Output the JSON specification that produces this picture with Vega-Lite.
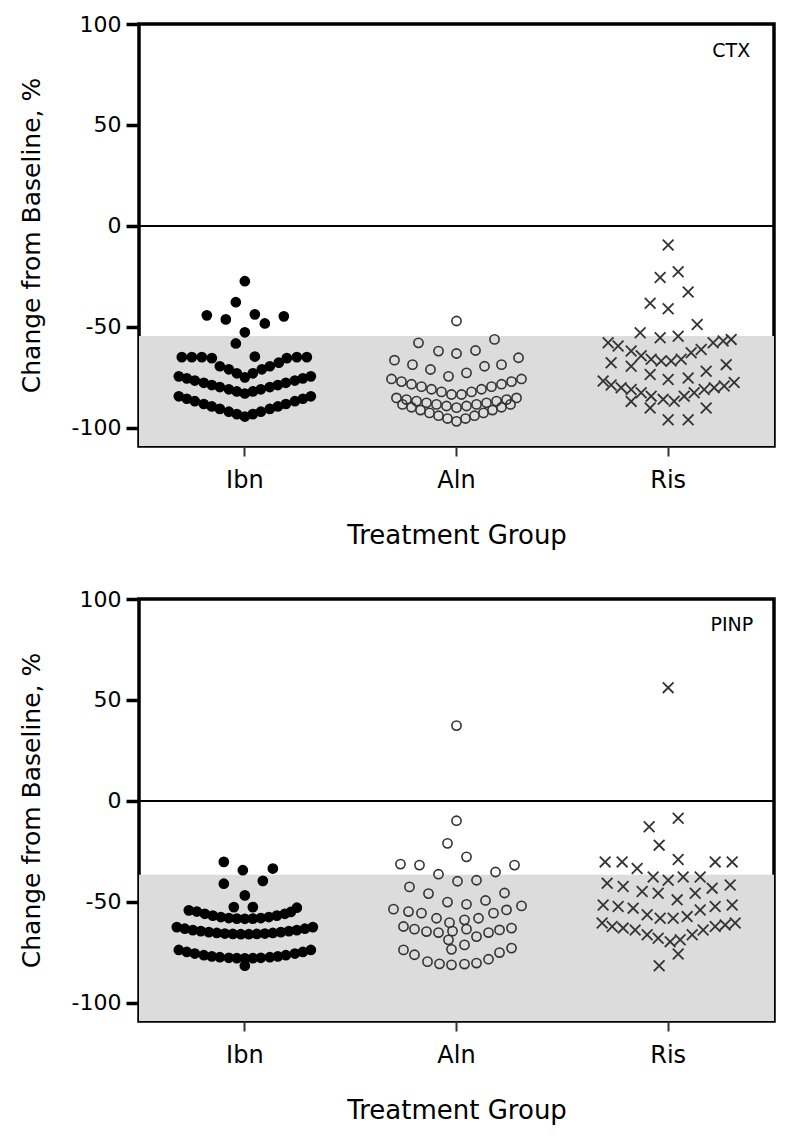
{
"$schema": "https://vega.github.io/schema/vega-lite/v6.json",
"background": "white",
"padding": {"left": 17, "top": 11, "right": 20, "bottom": 10},
"spacing": 36,
"datasets": {
"shades": [{"panel":"CTX","upper":-54.5,"lower":-109},{"panel":"PINP","upper":-36.6,"lower":-109}],
"labels": [{"panel":"CTX","group":"Ris","offset":82,"value":86.4,"label":"CTX"},{"panel":"PINP","group":"Ris","offset":85,"value":87,"label":"PINP"}],
"points": [
{"panel":"CTX","group":"Ibn","offset":0,"value":-27.4},{"panel":"CTX","group":"Ibn","offset":-9,"value":-37.8},{"panel":"CTX","group":"Ibn","offset":-38,"value":-44.3},{"panel":"CTX","group":"Ibn","offset":-19,"value":-46.3},{"panel":"CTX","group":"Ibn","offset":10,"value":-43.8},{"panel":"CTX","group":"Ibn","offset":20,"value":-48.3},{"panel":"CTX","group":"Ibn","offset":39,"value":-44.8},{"panel":"CTX","group":"Ibn","offset":0,"value":-52.7},{"panel":"CTX","group":"Ibn","offset":-9,"value":-58.2},{"panel":"CTX","group":"Ibn","offset":10,"value":-64.7},
{"panel":"CTX","group":"Ibn","offset":-63,"value":-65},{"panel":"CTX","group":"Ibn","offset":-53,"value":-65},{"panel":"CTX","group":"Ibn","offset":-43,"value":-65},{"panel":"CTX","group":"Ibn","offset":-33,"value":-65.5},{"panel":"CTX","group":"Ibn","offset":-25,"value":-69.5},{"panel":"CTX","group":"Ibn","offset":-16,"value":-71},{"panel":"CTX","group":"Ibn","offset":-8,"value":-73},{"panel":"CTX","group":"Ibn","offset":0,"value":-75},{"panel":"CTX","group":"Ibn","offset":8,"value":-73},{"panel":"CTX","group":"Ibn","offset":17,"value":-71},{"panel":"CTX","group":"Ibn","offset":25,"value":-69.5},{"panel":"CTX","group":"Ibn","offset":34,"value":-67.7},{"panel":"CTX","group":"Ibn","offset":42,"value":-65.5},{"panel":"CTX","group":"Ibn","offset":52,"value":-65},{"panel":"CTX","group":"Ibn","offset":62,"value":-65},
{"panel":"CTX","group":"Ibn","offset":-66,"value":-74.5},{"panel":"CTX","group":"Ibn","offset":-58,"value":-75.5},{"panel":"CTX","group":"Ibn","offset":-50,"value":-76.6},{"panel":"CTX","group":"Ibn","offset":-41,"value":-77.7},{"panel":"CTX","group":"Ibn","offset":-33,"value":-78.8},{"panel":"CTX","group":"Ibn","offset":-25,"value":-79.8},{"panel":"CTX","group":"Ibn","offset":-16,"value":-80.9},{"panel":"CTX","group":"Ibn","offset":-8,"value":-82},{"panel":"CTX","group":"Ibn","offset":0,"value":-83},{"panel":"CTX","group":"Ibn","offset":8,"value":-82},{"panel":"CTX","group":"Ibn","offset":16,"value":-80.9},{"panel":"CTX","group":"Ibn","offset":25,"value":-79.8},{"panel":"CTX","group":"Ibn","offset":33,"value":-78.8},{"panel":"CTX","group":"Ibn","offset":41,"value":-77.7},{"panel":"CTX","group":"Ibn","offset":50,"value":-76.6},{"panel":"CTX","group":"Ibn","offset":58,"value":-75.5},{"panel":"CTX","group":"Ibn","offset":66,"value":-74.5},
{"panel":"CTX","group":"Ibn","offset":-66,"value":-84.4},{"panel":"CTX","group":"Ibn","offset":-58,"value":-85.6},{"panel":"CTX","group":"Ibn","offset":-50,"value":-86.8},{"panel":"CTX","group":"Ibn","offset":-41,"value":-88.2},{"panel":"CTX","group":"Ibn","offset":-33,"value":-89.4},{"panel":"CTX","group":"Ibn","offset":-25,"value":-90.6},{"panel":"CTX","group":"Ibn","offset":-16,"value":-92},{"panel":"CTX","group":"Ibn","offset":-8,"value":-93.2},{"panel":"CTX","group":"Ibn","offset":0,"value":-94.4},{"panel":"CTX","group":"Ibn","offset":8,"value":-93.2},{"panel":"CTX","group":"Ibn","offset":16,"value":-92},{"panel":"CTX","group":"Ibn","offset":25,"value":-90.6},{"panel":"CTX","group":"Ibn","offset":33,"value":-89.4},{"panel":"CTX","group":"Ibn","offset":41,"value":-88.2},{"panel":"CTX","group":"Ibn","offset":50,"value":-86.8},{"panel":"CTX","group":"Ibn","offset":58,"value":-85.6},{"panel":"CTX","group":"Ibn","offset":66,"value":-84.4},
{"panel":"CTX","group":"Aln","offset":0,"value":-47.1},{"panel":"CTX","group":"Aln","offset":-38,"value":-57.9},{"panel":"CTX","group":"Aln","offset":38,"value":-56.2},{"panel":"CTX","group":"Aln","offset":-18,"value":-62},{"panel":"CTX","group":"Aln","offset":0,"value":-63.2},{"panel":"CTX","group":"Aln","offset":19,"value":-61.7},{"panel":"CTX","group":"Aln","offset":-62,"value":-66.5},{"panel":"CTX","group":"Aln","offset":-44,"value":-68.7},{"panel":"CTX","group":"Aln","offset":-26,"value":-71.1},{"panel":"CTX","group":"Aln","offset":-8,"value":-74.5},{"panel":"CTX","group":"Aln","offset":10,"value":-72.8},{"panel":"CTX","group":"Aln","offset":28,"value":-69.5},{"panel":"CTX","group":"Aln","offset":45,"value":-68.7},{"panel":"CTX","group":"Aln","offset":62,"value":-65.3},
{"panel":"CTX","group":"Aln","offset":-65,"value":-75.8},{"panel":"CTX","group":"Aln","offset":-55,"value":-77.1},{"panel":"CTX","group":"Aln","offset":-45,"value":-78.4},{"panel":"CTX","group":"Aln","offset":-35,"value":-79.6},{"panel":"CTX","group":"Aln","offset":-25,"value":-80.9},{"panel":"CTX","group":"Aln","offset":-15,"value":-82.2},{"panel":"CTX","group":"Aln","offset":-5,"value":-83.5},{"panel":"CTX","group":"Aln","offset":5,"value":-83.5},{"panel":"CTX","group":"Aln","offset":15,"value":-82.2},{"panel":"CTX","group":"Aln","offset":25,"value":-80.9},{"panel":"CTX","group":"Aln","offset":35,"value":-79.6},{"panel":"CTX","group":"Aln","offset":45,"value":-78.4},{"panel":"CTX","group":"Aln","offset":55,"value":-77.1},{"panel":"CTX","group":"Aln","offset":65,"value":-75.8},
{"panel":"CTX","group":"Aln","offset":-60,"value":-85.2},{"panel":"CTX","group":"Aln","offset":-50,"value":-86},{"panel":"CTX","group":"Aln","offset":-40,"value":-86.8},{"panel":"CTX","group":"Aln","offset":-30,"value":-87.6},{"panel":"CTX","group":"Aln","offset":-20,"value":-88.4},{"panel":"CTX","group":"Aln","offset":-10,"value":-89.2},{"panel":"CTX","group":"Aln","offset":0,"value":-90},{"panel":"CTX","group":"Aln","offset":10,"value":-89.2},{"panel":"CTX","group":"Aln","offset":20,"value":-88.4},{"panel":"CTX","group":"Aln","offset":30,"value":-87.6},{"panel":"CTX","group":"Aln","offset":40,"value":-86.8},{"panel":"CTX","group":"Aln","offset":50,"value":-86},{"panel":"CTX","group":"Aln","offset":60,"value":-85.2},
{"panel":"CTX","group":"Aln","offset":-54,"value":-88.4},{"panel":"CTX","group":"Aln","offset":-45,"value":-89.8},{"panel":"CTX","group":"Aln","offset":-36,"value":-91.2},{"panel":"CTX","group":"Aln","offset":-27,"value":-92.6},{"panel":"CTX","group":"Aln","offset":-18,"value":-94},{"panel":"CTX","group":"Aln","offset":-9,"value":-95.4},{"panel":"CTX","group":"Aln","offset":0,"value":-96.8},{"panel":"CTX","group":"Aln","offset":9,"value":-95.4},{"panel":"CTX","group":"Aln","offset":18,"value":-94},{"panel":"CTX","group":"Aln","offset":27,"value":-92.6},{"panel":"CTX","group":"Aln","offset":36,"value":-91.2},{"panel":"CTX","group":"Aln","offset":45,"value":-89.8},{"panel":"CTX","group":"Aln","offset":54,"value":-88.4},
{"panel":"CTX","group":"Ris","offset":0,"value":-9.5},{"panel":"CTX","group":"Ris","offset":-8,"value":-25.5},{"panel":"CTX","group":"Ris","offset":10,"value":-22.7},{"panel":"CTX","group":"Ris","offset":20,"value":-32.7},{"panel":"CTX","group":"Ris","offset":-18,"value":-38.3},{"panel":"CTX","group":"Ris","offset":0,"value":-41},{"panel":"CTX","group":"Ris","offset":29,"value":-48.8},{"panel":"CTX","group":"Ris","offset":-28,"value":-52.9},{"panel":"CTX","group":"Ris","offset":-8,"value":-55.4},{"panel":"CTX","group":"Ris","offset":10,"value":-54.6},
{"panel":"CTX","group":"Ris","offset":-60,"value":-57.9},{"panel":"CTX","group":"Ris","offset":-50,"value":-59.5},{"panel":"CTX","group":"Ris","offset":-37,"value":-62},
{"panel":"CTX","group":"Ris","offset":-27,"value":-64.3},{"panel":"CTX","group":"Ris","offset":-17,"value":-66},{"panel":"CTX","group":"Ris","offset":-7,"value":-66.9},{"panel":"CTX","group":"Ris","offset":3,"value":-66.9},{"panel":"CTX","group":"Ris","offset":13,"value":-66},
{"panel":"CTX","group":"Ris","offset":23,"value":-62.8},{"panel":"CTX","group":"Ris","offset":33,"value":-61.2},{"panel":"CTX","group":"Ris","offset":45,"value":-57.9},{"panel":"CTX","group":"Ris","offset":55,"value":-57},{"panel":"CTX","group":"Ris","offset":63,"value":-56.2},
{"panel":"CTX","group":"Ris","offset":-57,"value":-67.8},{"panel":"CTX","group":"Ris","offset":-37,"value":-69.5},{"panel":"CTX","group":"Ris","offset":-18,"value":-73.6},{"panel":"CTX","group":"Ris","offset":0,"value":-76.1},{"panel":"CTX","group":"Ris","offset":20,"value":-75.3},{"panel":"CTX","group":"Ris","offset":38,"value":-72},{"panel":"CTX","group":"Ris","offset":58,"value":-68.7},
{"panel":"CTX","group":"Ris","offset":-65,"value":-76.8},{"panel":"CTX","group":"Ris","offset":-57,"value":-78.8},{"panel":"CTX","group":"Ris","offset":-47,"value":-80.1},{"panel":"CTX","group":"Ris","offset":-37,"value":-81},{"panel":"CTX","group":"Ris","offset":-27,"value":-82.6},{"panel":"CTX","group":"Ris","offset":-17,"value":-84.3},{"panel":"CTX","group":"Ris","offset":-5,"value":-85.9},{"panel":"CTX","group":"Ris","offset":6,"value":-86.8},{"panel":"CTX","group":"Ris","offset":16,"value":-84.3},{"panel":"CTX","group":"Ris","offset":26,"value":-82.6},{"panel":"CTX","group":"Ris","offset":36,"value":-81},{"panel":"CTX","group":"Ris","offset":46,"value":-80.1},{"panel":"CTX","group":"Ris","offset":56,"value":-79.3},{"panel":"CTX","group":"Ris","offset":66,"value":-77.6},
{"panel":"CTX","group":"Ris","offset":-37,"value":-86.9},{"panel":"CTX","group":"Ris","offset":-18,"value":-90.2},{"panel":"CTX","group":"Ris","offset":38,"value":-90.2},{"panel":"CTX","group":"Ris","offset":0,"value":-96},{"panel":"CTX","group":"Ris","offset":20,"value":-96},
{"panel":"PINP","group":"Ibn","offset":-21,"value":-30.2},{"panel":"PINP","group":"Ibn","offset":-2,"value":-34.3},{"panel":"PINP","group":"Ibn","offset":28,"value":-33.5},{"panel":"PINP","group":"Ibn","offset":-21,"value":-41},{"panel":"PINP","group":"Ibn","offset":18,"value":-39.6},{"panel":"PINP","group":"Ibn","offset":0,"value":-46.8},{"panel":"PINP","group":"Ibn","offset":-11,"value":-52.6},{"panel":"PINP","group":"Ibn","offset":8,"value":-52.6},{"panel":"PINP","group":"Ibn","offset":-56,"value":-54.2},{"panel":"PINP","group":"Ibn","offset":52,"value":-52.9},
{"panel":"PINP","group":"Ibn","offset":-48,"value":-54.8},{"panel":"PINP","group":"Ibn","offset":-40,"value":-55.9},{"panel":"PINP","group":"Ibn","offset":-32,"value":-56.8},{"panel":"PINP","group":"Ibn","offset":-24,"value":-57.5},{"panel":"PINP","group":"Ibn","offset":-16,"value":-58},{"panel":"PINP","group":"Ibn","offset":-8,"value":-58.3},{"panel":"PINP","group":"Ibn","offset":0,"value":-58.4},{"panel":"PINP","group":"Ibn","offset":8,"value":-58.3},{"panel":"PINP","group":"Ibn","offset":16,"value":-58},{"panel":"PINP","group":"Ibn","offset":24,"value":-57.5},{"panel":"PINP","group":"Ibn","offset":32,"value":-56.8},{"panel":"PINP","group":"Ibn","offset":40,"value":-55.9},{"panel":"PINP","group":"Ibn","offset":46,"value":-55},
{"panel":"PINP","group":"Ibn","offset":-68,"value":-62.5},{"panel":"PINP","group":"Ibn","offset":-60,"value":-63.3},{"panel":"PINP","group":"Ibn","offset":-52,"value":-64},{"panel":"PINP","group":"Ibn","offset":-44,"value":-64.5},{"panel":"PINP","group":"Ibn","offset":-36,"value":-65},{"panel":"PINP","group":"Ibn","offset":-28,"value":-65.4},{"panel":"PINP","group":"Ibn","offset":-20,"value":-65.7},{"panel":"PINP","group":"Ibn","offset":-12,"value":-65.9},{"panel":"PINP","group":"Ibn","offset":-4,"value":-66},{"panel":"PINP","group":"Ibn","offset":4,"value":-66},{"panel":"PINP","group":"Ibn","offset":12,"value":-65.9},{"panel":"PINP","group":"Ibn","offset":20,"value":-65.7},{"panel":"PINP","group":"Ibn","offset":28,"value":-65.4},{"panel":"PINP","group":"Ibn","offset":36,"value":-65},{"panel":"PINP","group":"Ibn","offset":44,"value":-64.5},{"panel":"PINP","group":"Ibn","offset":52,"value":-64},{"panel":"PINP","group":"Ibn","offset":60,"value":-63.3},{"panel":"PINP","group":"Ibn","offset":68,"value":-62.5},
{"panel":"PINP","group":"Ibn","offset":-66,"value":-73.8},{"panel":"PINP","group":"Ibn","offset":-58,"value":-74.8},{"panel":"PINP","group":"Ibn","offset":-50,"value":-75.6},{"panel":"PINP","group":"Ibn","offset":-41,"value":-76.4},{"panel":"PINP","group":"Ibn","offset":-33,"value":-77},{"panel":"PINP","group":"Ibn","offset":-25,"value":-77.4},{"panel":"PINP","group":"Ibn","offset":-16,"value":-77.7},{"panel":"PINP","group":"Ibn","offset":-8,"value":-77.9},{"panel":"PINP","group":"Ibn","offset":0,"value":-78},{"panel":"PINP","group":"Ibn","offset":8,"value":-77.9},{"panel":"PINP","group":"Ibn","offset":16,"value":-77.7},{"panel":"PINP","group":"Ibn","offset":25,"value":-77.4},{"panel":"PINP","group":"Ibn","offset":33,"value":-77},{"panel":"PINP","group":"Ibn","offset":41,"value":-76.4},{"panel":"PINP","group":"Ibn","offset":50,"value":-75.6},{"panel":"PINP","group":"Ibn","offset":58,"value":-74.8},{"panel":"PINP","group":"Ibn","offset":66,"value":-73.8},{"panel":"PINP","group":"Ibn","offset":0,"value":-81.6},
{"panel":"PINP","group":"Aln","offset":0,"value":37.3},{"panel":"PINP","group":"Aln","offset":0,"value":-9.8},{"panel":"PINP","group":"Aln","offset":-9,"value":-21},{"panel":"PINP","group":"Aln","offset":10,"value":-27.7},{"panel":"PINP","group":"Aln","offset":-56,"value":-31.3},{"panel":"PINP","group":"Aln","offset":-37,"value":-31.8},{"panel":"PINP","group":"Aln","offset":58,"value":-31.8},{"panel":"PINP","group":"Aln","offset":39,"value":-35.2},{"panel":"PINP","group":"Aln","offset":-18,"value":-36.3},{"panel":"PINP","group":"Aln","offset":1,"value":-39.8},{"panel":"PINP","group":"Aln","offset":20,"value":-39.3},{"panel":"PINP","group":"Aln","offset":-47,"value":-42.6},{"panel":"PINP","group":"Aln","offset":-28,"value":-45.9},{"panel":"PINP","group":"Aln","offset":48,"value":-45.6},{"panel":"PINP","group":"Aln","offset":-9,"value":-50.1},{"panel":"PINP","group":"Aln","offset":10,"value":-51.2},{"panel":"PINP","group":"Aln","offset":29,"value":-49.3},
{"panel":"PINP","group":"Aln","offset":-63,"value":-53.6},{"panel":"PINP","group":"Aln","offset":-48,"value":-54.8},{"panel":"PINP","group":"Aln","offset":-35,"value":-55.6},{"panel":"PINP","group":"Aln","offset":-20,"value":-58.1},{"panel":"PINP","group":"Aln","offset":-7,"value":-60.3},{"panel":"PINP","group":"Aln","offset":8,"value":-58.9},{"panel":"PINP","group":"Aln","offset":22,"value":-58.1},{"panel":"PINP","group":"Aln","offset":37,"value":-55.6},{"panel":"PINP","group":"Aln","offset":50,"value":-54},{"panel":"PINP","group":"Aln","offset":65,"value":-52},
{"panel":"PINP","group":"Aln","offset":-53,"value":-62.2},{"panel":"PINP","group":"Aln","offset":-42,"value":-63.5},{"panel":"PINP","group":"Aln","offset":-30,"value":-64.7},{"panel":"PINP","group":"Aln","offset":-18,"value":-65.2},{"panel":"PINP","group":"Aln","offset":-4,"value":-64.5},{"panel":"PINP","group":"Aln","offset":10,"value":-63.5},{"panel":"PINP","group":"Aln","offset":20,"value":-67.2},{"panel":"PINP","group":"Aln","offset":32,"value":-65.2},{"panel":"PINP","group":"Aln","offset":43,"value":-63.9},{"panel":"PINP","group":"Aln","offset":55,"value":-63},
{"panel":"PINP","group":"Aln","offset":-8,"value":-68.8},{"panel":"PINP","group":"Aln","offset":8,"value":-71.3},{"panel":"PINP","group":"Aln","offset":-5,"value":-73.5},
{"panel":"PINP","group":"Aln","offset":-53,"value":-73.8},{"panel":"PINP","group":"Aln","offset":-42,"value":-76.2},{"panel":"PINP","group":"Aln","offset":-29,"value":-79.6},{"panel":"PINP","group":"Aln","offset":-17,"value":-80.7},{"panel":"PINP","group":"Aln","offset":-5,"value":-81.2},{"panel":"PINP","group":"Aln","offset":8,"value":-80.8},{"panel":"PINP","group":"Aln","offset":20,"value":-80.3},{"panel":"PINP","group":"Aln","offset":32,"value":-78.4},{"panel":"PINP","group":"Aln","offset":43,"value":-75.1},{"panel":"PINP","group":"Aln","offset":55,"value":-72.9},
{"panel":"PINP","group":"Ris","offset":0,"value":56.1},{"panel":"PINP","group":"Ris","offset":10,"value":-8.6},{"panel":"PINP","group":"Ris","offset":-19,"value":-12.8},{"panel":"PINP","group":"Ris","offset":-9,"value":-21.9},{"panel":"PINP","group":"Ris","offset":10,"value":-29},
{"panel":"PINP","group":"Ris","offset":-63,"value":-30.2},{"panel":"PINP","group":"Ris","offset":-46,"value":-30.2},{"panel":"PINP","group":"Ris","offset":-31,"value":-33.5},{"panel":"PINP","group":"Ris","offset":47,"value":-30.2},{"panel":"PINP","group":"Ris","offset":64,"value":-30.2},
{"panel":"PINP","group":"Ris","offset":-15,"value":-37.7},{"panel":"PINP","group":"Ris","offset":0,"value":-39.3},{"panel":"PINP","group":"Ris","offset":15,"value":-37.7},{"panel":"PINP","group":"Ris","offset":32,"value":-37.7},
{"panel":"PINP","group":"Ris","offset":-61,"value":-40.8},{"panel":"PINP","group":"Ris","offset":-45,"value":-42.4},{"panel":"PINP","group":"Ris","offset":-26,"value":-44.9},{"panel":"PINP","group":"Ris","offset":-10,"value":-45.7},{"panel":"PINP","group":"Ris","offset":9,"value":-49},{"panel":"PINP","group":"Ris","offset":27,"value":-45.7},{"panel":"PINP","group":"Ris","offset":44,"value":-43.2},{"panel":"PINP","group":"Ris","offset":62,"value":-41.6},
{"panel":"PINP","group":"Ris","offset":-65,"value":-51.5},{"panel":"PINP","group":"Ris","offset":-50,"value":-52.3},{"panel":"PINP","group":"Ris","offset":-35,"value":-53.1},{"panel":"PINP","group":"Ris","offset":-21,"value":-56.4},{"panel":"PINP","group":"Ris","offset":-8,"value":-58.1},{"panel":"PINP","group":"Ris","offset":5,"value":-58.1},{"panel":"PINP","group":"Ris","offset":19,"value":-57.3},{"panel":"PINP","group":"Ris","offset":32,"value":-54},{"panel":"PINP","group":"Ris","offset":47,"value":-52.3},{"panel":"PINP","group":"Ris","offset":64,"value":-51.5},
{"panel":"PINP","group":"Ris","offset":-66,"value":-60.5},{"panel":"PINP","group":"Ris","offset":-56,"value":-62.2},{"panel":"PINP","group":"Ris","offset":-45,"value":-63},{"panel":"PINP","group":"Ris","offset":-33,"value":-63.9},{"panel":"PINP","group":"Ris","offset":-21,"value":-66.3},{"panel":"PINP","group":"Ris","offset":-10,"value":-68},{"panel":"PINP","group":"Ris","offset":2,"value":-69.7},{"panel":"PINP","group":"Ris","offset":12,"value":-68.8},{"panel":"PINP","group":"Ris","offset":24,"value":-66.3},{"panel":"PINP","group":"Ris","offset":35,"value":-63.9},{"panel":"PINP","group":"Ris","offset":47,"value":-62.2},{"panel":"PINP","group":"Ris","offset":57,"value":-61.4},{"panel":"PINP","group":"Ris","offset":67,"value":-60.5},
{"panel":"PINP","group":"Ris","offset":10,"value":-75.8},{"panel":"PINP","group":"Ris","offset":-9,"value":-81.6}
]
},
"vconcat": [
{
"width": 635, "height": 422,
"layer": [
{"data": {"name": "shades"}, "transform": [{"filter": "datum.panel === 'CTX'"}],
 "mark": {"type": "rect", "color": "#dcdcdc"},
 "encoding": {
  "y": {"field": "upper", "type": "quantitative", "scale": {"domain": [-109, 100], "nice": false, "zero": false},
   "axis": {"title": "Change from Baseline, %", "values": [-100, -50, 0, 50, 100], "labelExpr": "'' + datum.value", "tickSize": 13, "tickWidth": 3.5, "tickColor": "black", "domain": false, "labelFontSize": 22, "labelPadding": 5, "titleFontSize": 25, "titlePadding": 33, "minExtent": 62, "maxExtent": 62}},
  "y2": {"field": "lower"}}},
{"data": {"name": "shades"}, "transform": [{"filter": "datum.panel === 'CTX'"}],
 "mark": {"type": "rule", "color": "black", "strokeWidth": 2},
 "encoding": {"y": {"datum": 0, "type": "quantitative"}}},
{"data": {"name": "points"}, "transform": [{"filter": "datum.panel === 'CTX' && datum.group === 'Ibn'"}],
 "mark": {"type": "point", "shape": "circle", "filled": true, "color": "black", "size": 115, "opacity": 1},
 "encoding": {
  "x": {"field": "group", "type": "nominal", "scale": {"type": "band", "domain": ["Ibn", "Aln", "Ris"], "paddingInner": 0, "paddingOuter": 0},
   "axis": {"title": "Treatment Group", "tickSize": 10, "tickWidth": 2, "tickColor": "#333", "domain": false, "labelFontSize": 24, "labelPadding": 12, "labelAngle": 0, "titleFontSize": 26, "titlePadding": 30}},
  "xOffset": {"field": "offset", "type": "quantitative", "scale": {"domain": [-105.8, 105.8], "nice": false, "zero": false}},
  "y": {"field": "value", "type": "quantitative"}}},
{"data": {"name": "points"}, "transform": [{"filter": "datum.panel === 'CTX' && datum.group === 'Aln'"}],
 "mark": {"type": "point", "shape": "circle", "filled": false, "stroke": "#333", "strokeWidth": 1.6, "size": 85, "opacity": 1},
 "encoding": {
  "x": {"field": "group", "type": "nominal"},
  "xOffset": {"field": "offset", "type": "quantitative"},
  "y": {"field": "value", "type": "quantitative"}}},
{"data": {"name": "points"}, "transform": [{"filter": "datum.panel === 'CTX' && datum.group === 'Ris'"}],
 "mark": {"type": "point", "shape": "M-1,-1L1,1M1,-1L-1,1", "filled": false, "stroke": "#333", "strokeWidth": 1.8, "size": 115, "opacity": 1},
 "encoding": {
  "x": {"field": "group", "type": "nominal"},
  "xOffset": {"field": "offset", "type": "quantitative"},
  "y": {"field": "value", "type": "quantitative"}}},
{"data": {"name": "labels"}, "transform": [{"filter": "datum.panel === 'CTX'"}],
 "mark": {"type": "text", "align": "right", "baseline": "middle", "fontSize": 19, "font": "DejaVu Sans", "color": "black"},
 "encoding": {
  "x": {"field": "group", "type": "nominal"},
  "xOffset": {"field": "offset", "type": "quantitative"},
  "y": {"field": "value", "type": "quantitative"},
  "text": {"field": "label"}}}
]
},
{
"width": 635, "height": 422,
"layer": [
{"data": {"name": "shades"}, "transform": [{"filter": "datum.panel === 'PINP'"}],
 "mark": {"type": "rect", "color": "#dcdcdc"},
 "encoding": {
  "y": {"field": "upper", "type": "quantitative", "scale": {"domain": [-109, 100], "nice": false, "zero": false},
   "axis": {"title": "Change from Baseline, %", "values": [-100, -50, 0, 50, 100], "labelExpr": "'' + datum.value", "tickSize": 13, "tickWidth": 3.5, "tickColor": "black", "domain": false, "labelFontSize": 22, "labelPadding": 5, "titleFontSize": 25, "titlePadding": 33, "minExtent": 62, "maxExtent": 62}},
  "y2": {"field": "lower"}}},
{"data": {"name": "shades"}, "transform": [{"filter": "datum.panel === 'PINP'"}],
 "mark": {"type": "rule", "color": "black", "strokeWidth": 2},
 "encoding": {"y": {"datum": 0, "type": "quantitative"}}},
{"data": {"name": "points"}, "transform": [{"filter": "datum.panel === 'PINP' && datum.group === 'Ibn'"}],
 "mark": {"type": "point", "shape": "circle", "filled": true, "color": "black", "size": 115, "opacity": 1},
 "encoding": {
  "x": {"field": "group", "type": "nominal", "scale": {"type": "band", "domain": ["Ibn", "Aln", "Ris"], "paddingInner": 0, "paddingOuter": 0},
   "axis": {"title": "Treatment Group", "tickSize": 10, "tickWidth": 2, "tickColor": "#333", "domain": false, "labelFontSize": 24, "labelPadding": 12, "labelAngle": 0, "titleFontSize": 26, "titlePadding": 30}},
  "xOffset": {"field": "offset", "type": "quantitative", "scale": {"domain": [-105.8, 105.8], "nice": false, "zero": false}},
  "y": {"field": "value", "type": "quantitative"}}},
{"data": {"name": "points"}, "transform": [{"filter": "datum.panel === 'PINP' && datum.group === 'Aln'"}],
 "mark": {"type": "point", "shape": "circle", "filled": false, "stroke": "#333", "strokeWidth": 1.6, "size": 85, "opacity": 1},
 "encoding": {
  "x": {"field": "group", "type": "nominal"},
  "xOffset": {"field": "offset", "type": "quantitative"},
  "y": {"field": "value", "type": "quantitative"}}},
{"data": {"name": "points"}, "transform": [{"filter": "datum.panel === 'PINP' && datum.group === 'Ris'"}],
 "mark": {"type": "point", "shape": "M-1,-1L1,1M1,-1L-1,1", "filled": false, "stroke": "#333", "strokeWidth": 1.8, "size": 115, "opacity": 1},
 "encoding": {
  "x": {"field": "group", "type": "nominal"},
  "xOffset": {"field": "offset", "type": "quantitative"},
  "y": {"field": "value", "type": "quantitative"}}},
{"data": {"name": "labels"}, "transform": [{"filter": "datum.panel === 'PINP'"}],
 "mark": {"type": "text", "align": "right", "baseline": "middle", "fontSize": 19, "font": "DejaVu Sans", "color": "black"},
 "encoding": {
  "x": {"field": "group", "type": "nominal"},
  "xOffset": {"field": "offset", "type": "quantitative"},
  "y": {"field": "value", "type": "quantitative"},
  "text": {"field": "label"}}}
]
}
],
"config": {
 "view": {"stroke": "black", "strokeWidth": 3.5},
 "font": "DejaVu Sans",
 "axis": {"grid": false, "labelFont": "DejaVu Sans", "titleFont": "DejaVu Sans", "titleFontWeight": "normal", "labelColor": "black", "titleColor": "black"}
}
}
